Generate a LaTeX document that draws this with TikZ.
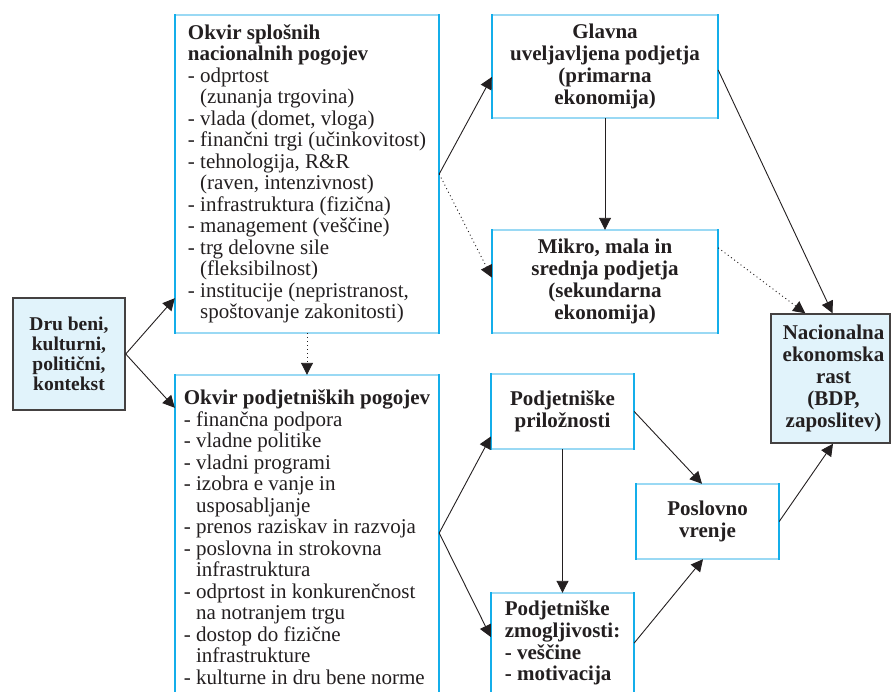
\documentclass[tikz,border=0pt]{standalone}
\usepackage{fontspec}
\setmainfont{Liberation Serif}
\usetikzlibrary{arrows.meta,calc}
\definecolor{boxcyan}{HTML}{14AEEA}
\definecolor{edgelight}{HTML}{9AD9F4}
\definecolor{lightfill}{HTML}{E1F3FB}
\definecolor{ink}{HTML}{231F20}
\newcommand\ind{\hphantom{-\ }}
\newcommand\cyanedges[1]{%
  \draw[edgelight, line width=1.5pt] (#1.north west) -- (#1.north east) (#1.south west) -- (#1.south east);
  \draw[boxcyan, line width=1.8pt] ([yshift=0.75pt]#1.north west) -- ([yshift=-0.75pt]#1.south west)
        ([yshift=0.75pt]#1.north east) -- ([yshift=-0.75pt]#1.south east);}
\begin{document}
\begin{tikzpicture}[x=1pt,y=-1pt,
  box/.style={rectangle, inner sep=0pt, text=ink,
    font=\fontsize{21}{21.5}\selectfont},
  keybox/.style={draw=ink!85, line width=1.5pt, fill=lightfill, rectangle, inner sep=0pt, text=ink,
    font=\fontsize{21}{21.6}\selectfont\bfseries, align=center},
  arr/.style={draw=ink, line width=0.9pt, -{Triangle[length=12pt,width=12pt]}},
  dots/.style={arr, dash pattern=on 1pt off 3pt}]
\useasboundingbox (0,0) rectangle (891,691);

\node[keybox, minimum width=112pt, minimum height=112pt, font=\fontsize{19.5}{20}\selectfont\bfseries]
  (dru) at (69,354) {Dru beni,\\kulturni,\\politični,\\kontekst};

\node[box, minimum width=264pt, minimum height=318pt, align=left] (splo) at (307,174)
  {\textbf{Okvir splošnih}\\
   \textbf{nacionalnih pogojev}\\
   - odprtost\\
   \ind(zunanja trgovina)\\
   - vlada (domet, vloga)\\
   - finančni trgi (učinkovitost)\\
   - tehnologija, R\&R\\
   \ind(raven, intenzivnost)\\
   - infrastruktura (fizična)\\
   - management (veščine)\\
   - trg delovne sile\\
   \ind(fleksibilnost)\\
   - institucije (nepristranost,\\
   \ind spoštovanje zakonitosti)};

\node[box, minimum width=264pt, minimum height=324pt, align=left] (podj) at (307,537)
  {\textbf{Okvir podjetniških pogojev}\\
   - finančna podpora\\
   - vladne politike\\
   - vladni programi\\
   - izobra e vanje in\\
   \ind usposabljanje\\
   - prenos raziskav in razvoja\\
   - poslovna in strokovna\\
   \ind infrastruktura\\
   - odprtost in konkurenčnost\\
   \ind na notranjem trgu\\
   - dostop do fizične\\
   \ind infrastrukture\\
   - kulturne in dru bene norme};

\node[box, minimum width=226pt, minimum height=103pt, align=center, font=\fontsize{21}{22}\selectfont\bfseries]
  (glavna) at (605,66.5) {Glavna\\uveljavljena podjetja\\(primarna\\ekonomija)};

\node[box, minimum width=226pt, minimum height=103pt, align=center, font=\fontsize{21}{22}\selectfont\bfseries]
  (mikro) at (605,281.5) {Mikro, mala in\\srednja podjetja\\(sekundarna\\ekonomija)};

\node[keybox, minimum width=119pt, minimum height=129pt, font=\fontsize{21}{22}\selectfont\bfseries]
  (nac) at (830.5,378.5) {\hspace*{6pt}Nacionalna\\\hspace*{6pt}ekonomska\\\hspace*{6pt}rast\\\hspace*{6pt}(BDP,\\\hspace*{6pt}zaposlitev)};

\node[box, minimum width=143pt, minimum height=75pt, align=center, font=\fontsize{21}{22}\selectfont\bfseries]
  (prilo) at (562.5,411.5) {Podjetniške\\priložnosti};

\node[box, minimum width=143pt, minimum height=75pt, align=center, font=\fontsize{21}{22}\selectfont\bfseries]
  (poslo) at (707.5,521.5) {Poslovno\\vrenje};

\node[box, minimum width=143pt, minimum height=100pt, align=left, font=\fontsize{21}{21.7}\selectfont\bfseries]
  (zmog) at (562.5,643) {Podjetniške\\zmogljivosti:\\- veščine\\- motivacija};

\cyanedges{splo}
\cyanedges{podj}
\cyanedges{glavna}
\cyanedges{mikro}
\cyanedges{prilo}
\cyanedges{poslo}
\cyanedges{zmog}

% connectors
\draw[arr] (dru.east) -- ([yshift=35pt]splo.south west);
\draw[arr] (dru.east) -- ([yshift=-33pt]podj.north west);
\draw[arr] (splo.east) -- ([yshift=-10.5pt]glavna.west);
\draw[dots] (splo.east) -- ([yshift=4pt]mikro.west);
\draw[dots] (splo.south) -- (podj.north);
\draw[arr] (glavna.south) -- (mikro.north);
\draw[arr] ([yshift=-3.5pt]glavna.east) -- ([xshift=2pt]nac.north);
\draw[dots] ([yshift=-18pt]mikro.north east) -- ([xshift=35pt]nac.north west);
\draw[arr] ([yshift=4pt]podj.east) -- ([yshift=-25pt]prilo.west);
\draw[arr] ([yshift=4pt]podj.east) -- ([yshift=6pt]zmog.west);
\draw[arr] (prilo.south) -- (zmog.north);
\draw[arr] (prilo.east) -- ([xshift=-5.5pt]poslo.north);
\draw[arr] (zmog.east) -- ([xshift=-4.5pt]poslo.south);
\draw[arr] (poslo.east) -- ([xshift=2.5pt]nac.south);
\end{tikzpicture}
\end{document}
